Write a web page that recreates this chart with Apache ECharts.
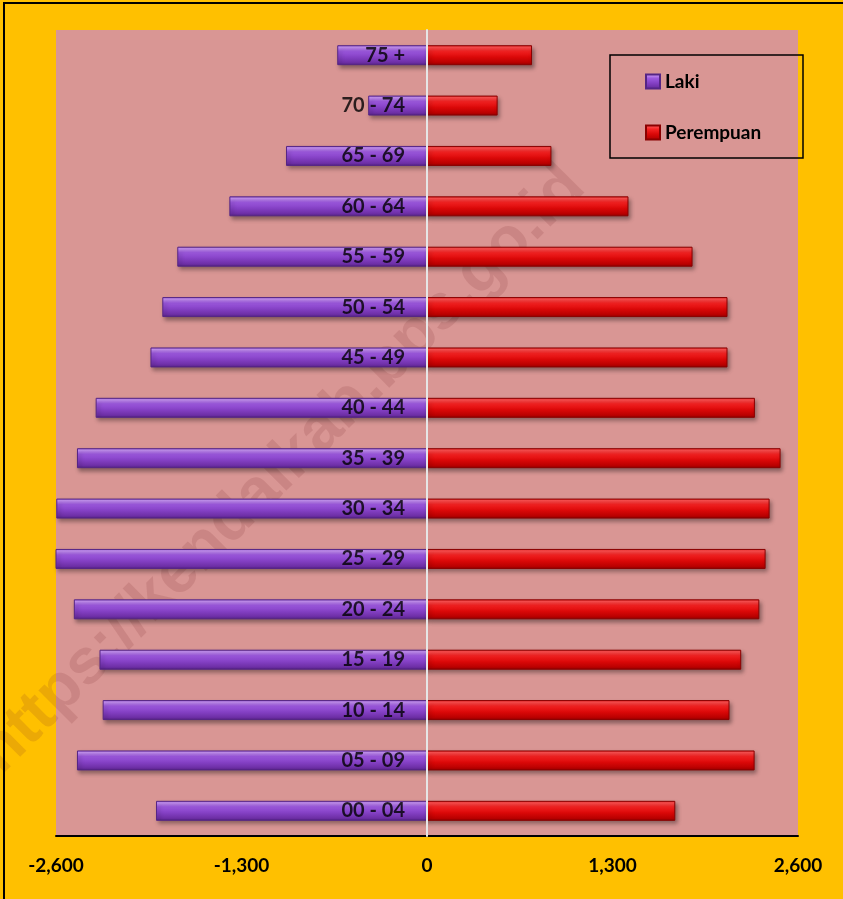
<!DOCTYPE html>
<html>
<head>
<meta charset="utf-8">
<script src="https://cdn.jsdelivr.net/npm/echarts@6/dist/echarts.min.js"></script>
<style>
html,body{margin:0;padding:0;background:#FFC000;}
#chart{width:843px;height:899px;}
</style>
</head>
<body>
<div id="chart"></div>
<script>
var categories = ['00 - 04','05 - 09','10 - 14','15 - 19','20 - 24','25 - 29','30 - 34','35 - 39','40 - 44','45 - 49','50 - 54','55 - 59','60 - 64','65 - 69','70 - 74','75 +'];
var laki = [-1899,-2453,-2273,-2295,-2475,-2604,-2598,-2453,-2322,-1938,-1855,-1750,-1385,-988,-412,-629];
var perempuan = [1740,2296,2120,2202,2329,2373,2401,2478,2298,2106,2106,1861,1412,872,495,736];
var xTicks = [-2600,-1300,0,1300,2600];
var seriesNames = ['Laki','Perempuan'];
var watermark = 'https://kendalkab.bps.go.id';

var FONT = "Lato, 'Open Sans', sans-serif";

function grad(stops){
  return new echarts.graphic.LinearGradient(0,0,0,1, stops.map(function(s){return {offset:s[0], color:s[1]};}));
}
var purpleFill = grad([[0,'#9A5AD8'],[0.1,'#C592F2'],[0.3,'#9C58DE'],[0.6,'#8440C4'],[0.88,'#6C2EA4'],[1,'#50207E']]);
var redFill = grad([[0,'#E01818'],[0.1,'#FF5050'],[0.3,'#F42222'],[0.6,'#DA0808'],[0.88,'#B80000'],[1,'#8C0000']]);

var chart = echarts.init(document.getElementById('chart'), null, {renderer:'canvas'});
chart.setOption({
  animation:false,
  backgroundColor:'#FFC000',
  grid:{left:56,right:45,top:30,bottom:63,show:true,backgroundColor:'#D99694',borderWidth:0,containLabel:false,outerBoundsMode:'none'},
  graphic:[
    {type:'rect', z:100, silent:true, shape:{x:4,y:3,width:900,height:1000}, style:{fill:'none',stroke:'#000',lineWidth:2}},
    {type:'text', z:1, silent:true, x:282, y:470, rotation:Math.PI/4,
      style:{text:watermark, font:"bold 64px 'Liberation Sans', Arial, sans-serif", fill:'rgba(120,40,40,0.15)', textAlign:'center', textVerticalAlign:'middle'}},
    {type:'rect', z:20, silent:true, shape:{x:610,y:55,width:193,height:103}, style:{fill:'none',stroke:'#000',lineWidth:1.5}}
  ],
  legend:{
    data:seriesNames, orient:'vertical', left:645, top:72, itemGap:32, itemWidth:14, itemHeight:14,
    icon:'rect', padding:0, z:21,
    textStyle:{fontFamily:FONT, fontWeight:'bold', fontSize:19, color:'#000'}
  },
  xAxis:{
    type:'value', min:xTicks[0], max:xTicks[xTicks.length-1], interval:1300, position:'bottom',
    axisLine:{show:true, onZero:false, lineStyle:{color:'#000', width:2}},
    axisTick:{show:false}, splitLine:{show:false},
    axisLabel:{margin:20, fontFamily:FONT, fontWeight:'bold', fontSize:19, color:'#000',
      formatter:function(v){return v.toLocaleString('en-US');}}
  },
  yAxis:{
    type:'category', data:categories, z:10,
    axisLine:{show:true, onZero:true, lineStyle:{color:'#E6E6E6', width:2}},
    axisTick:{show:false}, splitLine:{show:false},
    axisLabel:{show:false}
  },
  series:[
    {name:seriesNames[0], type:'bar', data:laki, barWidth:20, barGap:'-100%', z:2,
      itemStyle:{color:purpleFill, borderColor:'#552585', borderWidth:1,
        shadowColor:'rgba(0,0,0,0.35)', shadowBlur:4, shadowOffsetX:2, shadowOffsetY:3}},
    {name:seriesNames[1], type:'bar', data:perempuan, barWidth:20, barGap:'-100%', z:2,
      itemStyle:{color:redFill, borderColor:'#8A0000', borderWidth:1,
        shadowColor:'rgba(0,0,0,0.35)', shadowBlur:4, shadowOffsetX:2, shadowOffsetY:3}},
    {name:'labels', type:'scatter', silent:true, z:10, symbolSize:0,
      data:categories.map(function(c){return [0, c];}),
      label:{show:true, position:'left', distance:22, fontFamily:FONT, fontWeight:'bold', fontSize:20, color:'#000',
        formatter:function(p){return p.value[1];}}}
  ]
});
</script>
</body>
</html>
